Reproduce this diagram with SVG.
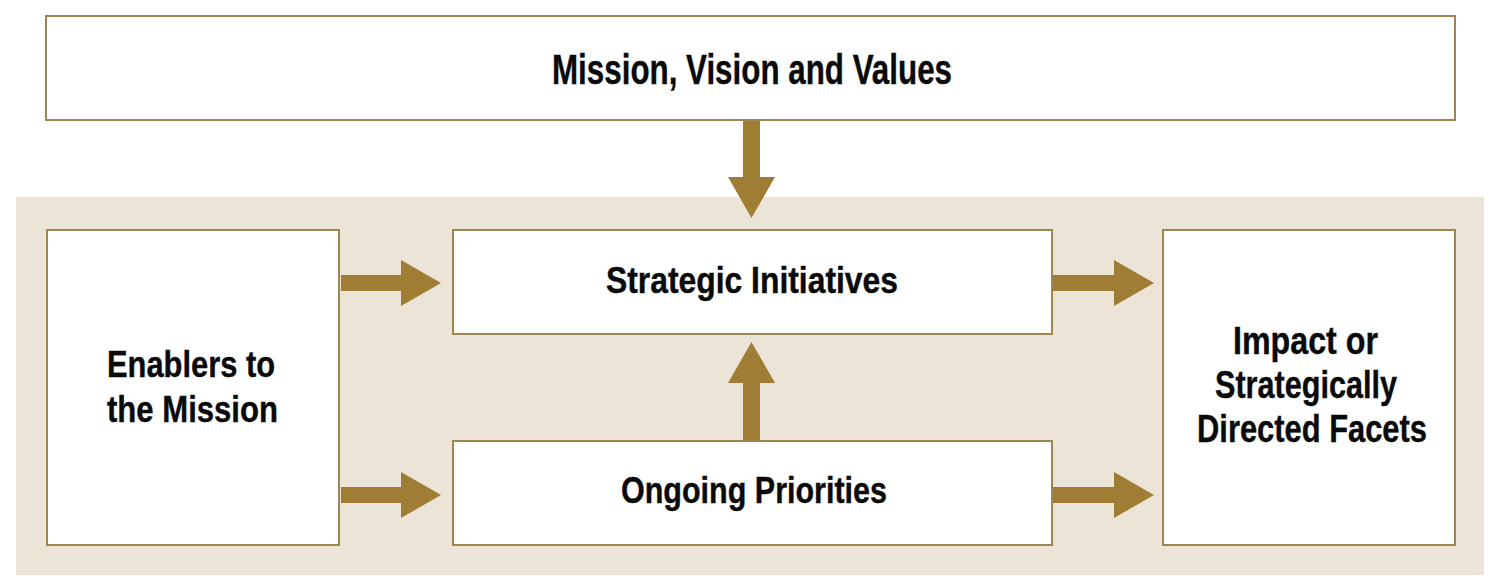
<svg xmlns="http://www.w3.org/2000/svg" width="1500" height="587" viewBox="0 0 1500 587">
<style>
.box{fill:#ffffff;stroke:#9e8650;stroke-width:2}
.arrow{fill:#a07d35}
.t{font-family:"Liberation Sans Narrow","Liberation Sans",Arial,sans-serif;font-weight:bold;fill:#0a0a0a;text-anchor:middle;stroke:#0a0a0a;stroke-width:0.4}
</style>
<rect x="0" y="0" width="1500" height="587" fill="#ffffff"/>
<rect id="panel" x="16" y="197" width="1468" height="378" fill="#ede4d8"/>
<g id="mission">
<rect class="box" x="46" y="16" width="1409" height="104"/>
<text class="t" x="752" y="84" font-size="43" textLength="400" lengthAdjust="spacingAndGlyphs">Mission, Vision and Values</text>
</g>
<g id="enablers">
<rect class="box" x="47" y="230" width="292" height="315"/>
<text class="t" x="191" y="377" font-size="37" textLength="168" lengthAdjust="spacingAndGlyphs">Enablers to</text>
<text class="t" x="192.5" y="422" font-size="37" textLength="171" lengthAdjust="spacingAndGlyphs">the Mission</text>
</g>
<g id="strategic">
<rect class="box" x="453" y="230" width="599" height="104"/>
<text class="t" x="752" y="293" font-size="36" textLength="292" lengthAdjust="spacingAndGlyphs">Strategic Initiatives</text>
</g>
<g id="ongoing">
<rect class="box" x="453" y="441" width="599" height="104"/>
<text class="t" x="754" y="503" font-size="36" textLength="266" lengthAdjust="spacingAndGlyphs">Ongoing Priorities</text>
</g>
<g id="impact">
<rect class="box" x="1163" y="230" width="292" height="315"/>
<text class="t" x="1305.5" y="354" font-size="38" textLength="145" lengthAdjust="spacingAndGlyphs">Impact or</text>
<text class="t" x="1306" y="398" font-size="38" textLength="182" lengthAdjust="spacingAndGlyphs">Strategically</text>
<text class="t" x="1312" y="442" font-size="38" textLength="230" lengthAdjust="spacingAndGlyphs">Directed Facets</text>
</g>
<g id="connectors">
<path class="arrow" d="M743,121 H760 V177 H775 L751.5,218 L728,177 H743 Z"/>
<path class="arrow" d="M341,275 H401 V260 L441,283 L401,306 V291 H341 Z"/>
<path class="arrow" d="M341,487 H401 V472 L441,495 L401,518 V503 H341 Z"/>
<path class="arrow" d="M1053,275 H1114 V260 L1154,283 L1114,306 V291 H1053 Z"/>
<path class="arrow" d="M1053,487 H1114 V472 L1154,495 L1114,518 V503 H1053 Z"/>
<path class="arrow" d="M743,440 V383 H728 L751.5,342 L775,383 H760 V440 Z"/>
</g>
</svg>
